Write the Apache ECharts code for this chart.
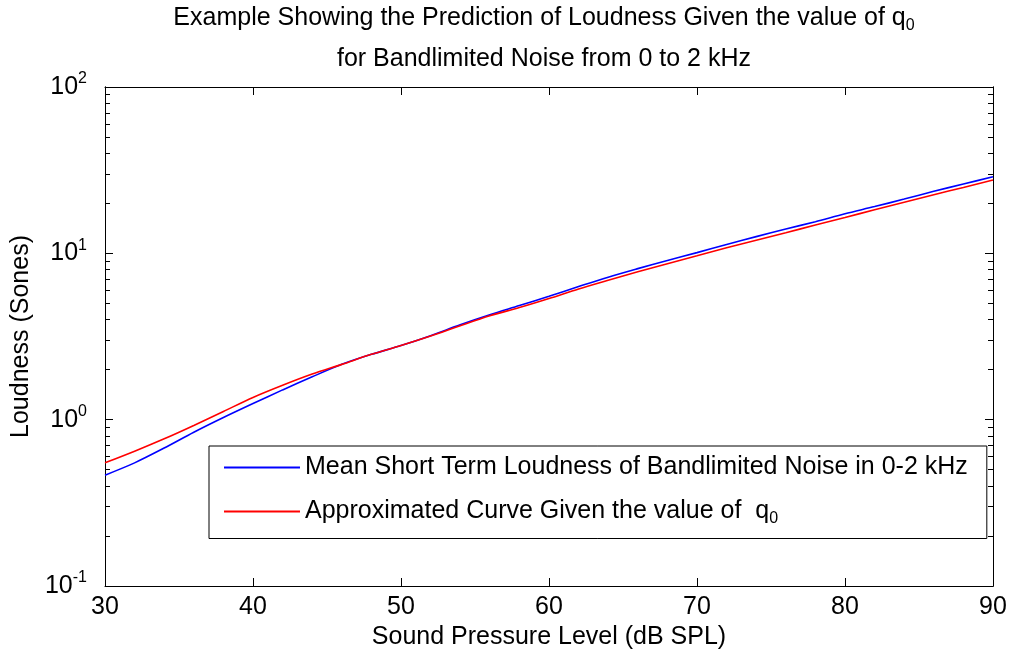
<!DOCTYPE html>
<html>
<head>
<meta charset="utf-8">
<script src="https://cdn.jsdelivr.net/npm/echarts@6/dist/echarts.min.js"></script>
<style>html,body{margin:0;padding:0;background:#fff;}#c{width:1010px;height:659px;}</style>
</head>
<body>
<div id="c"></div>
<script>
// Sound pressure level (dB SPL)
var levels = [30,32,34,36,38,40,42,44,46,48,50,52,54,56,58,60,62,64,66,68,70,72,74,76,78,80,82,84,86,88,90];
// Mean short-term loudness (sones), blue
var measured = [0.464,0.550,0.675,0.840,1.03,1.25,1.51,1.81,2.15,2.47,2.79,3.20,3.72,4.27,4.85,5.52,6.31,7.19,8.09,9.06,10.1,11.3,12.6,14.0,15.5,17.3,19.1,21.2,23.6,26.1,28.9];
// Approximated curve (sones), red
var approx = [0.550,0.646,0.767,0.923,1.12,1.36,1.61,1.88,2.15,2.47,2.79,3.18,3.67,4.21,4.72,5.35,6.11,6.89,7.74,8.65,9.66,10.8,12.0,13.3,14.8,16.4,18.3,20.3,22.5,24.9,27.6];
var majorTicks = [0.1,1,10,100];
var minorTicks = [0.2,0.3,0.4,0.5,0.6,0.7,0.8,0.9,2,3,4,5,6,7,8,9,20,30,40,50,60,70,80,90];
var xTicks = [30,40,50,60,70,80,90];

var FONT = '"Liberation Sans", Arial, sans-serif';
var FS = 25;
function pairs(vals){ return levels.map(function(x,i){ return [x, vals[i]]; }); }

var chart = echarts.init(document.getElementById('c'), null, {renderer:'canvas'});
function yAx(pos, ticks, len, labels){
  return {
    type:'log', logBase:10, min:0.1, max:100, position:pos,
    axisLine:{show:true, lineStyle:{color:'#000', width:1}},
    axisTick:{show:true, inside:true, length:len, customValues:ticks, lineStyle:{color:'#000', width:1}},
    axisLabel: labels ? {
      show:true, customValues:majorTicks, margin:18, color:'#000',
      formatter:function(v){ var e=Math.round(Math.log10(v)); return '{b|10}{s|'+e+'}'; },
      rich:{ b:{fontFamily:FONT,fontSize:FS,color:'#000'}, s:{fontFamily:FONT,fontSize:16,color:'#000',padding:[0,0,16,0]} }
    } : {show:false},
    splitLine:{show:false}, minorTick:{show:false}
  };
}
var option = {
  backgroundColor:'#fff',
  animation:false,
  title:{
    left:539, top:-7, textAlign:'center',
    text:'{t|Example Showing the Prediction of Loudness Given the value of q}{u|0}\n{t|for Bandlimited Noise from 0 to 2 kHz}',
    textStyle:{
      fontWeight:'normal',
      rich:{
        t:{fontFamily:FONT,fontSize:FS,fontWeight:'normal',color:'#000',lineHeight:41},
        u:{fontFamily:FONT,fontSize:16,fontWeight:'normal',color:'#000',padding:[14,0,0,0],lineHeight:41}
      }
    }
  },
  grid:{left:105, right:17, top:87, bottom:73, containLabel:false},
  xAxis:[{
    type:'value', min:30, max:90, interval:10, position:'bottom',
    name:'Sound Pressure Level (dB SPL)', nameLocation:'middle', nameGap:34,
    nameTextStyle:{fontFamily:FONT,fontSize:FS,color:'#000'},
    axisLine:{show:true,lineStyle:{color:'#000',width:1}},
    axisTick:{show:true,inside:true,length:8,lineStyle:{color:'#000'}},
    axisLabel:{show:true,margin:9,color:'#000',fontFamily:FONT,fontSize:FS,customValues:xTicks},
    splitLine:{show:false}
  },{
    type:'value', min:30, max:90, interval:10, position:'top',
    axisLine:{show:true,lineStyle:{color:'#000',width:1}},
    axisTick:{show:true,inside:true,length:8,lineStyle:{color:'#000'}},
    axisLabel:{show:false}, splitLine:{show:false}
  }],
  yAxis:[
    Object.assign(yAx('left', majorTicks, 8, true), {
      name:'Loudness (Sones)', nameLocation:'middle', nameGap:70,
      nameTextStyle:{fontFamily:FONT,fontSize:FS,color:'#000'}
    }),
    yAx('right', majorTicks, 8, false),
    yAx('left', minorTicks, 5, false),
    yAx('right', minorTicks, 5, false)
  ],
  legend:{
    orient:'vertical', left:209, top:446,
    backgroundColor:'#fff', borderColor:'#000', borderWidth:1, borderRadius:0,
    padding:[9,19,12,15], itemGap:19, itemWidth:76, itemHeight:2, icon:'rect',
    textStyle:{
      fontFamily:FONT,fontSize:FS,color:'#000',
      rich:{
        t:{fontFamily:FONT,fontSize:FS,color:'#000'},
        u:{fontFamily:FONT,fontSize:16,color:'#000',padding:[14,0,0,0]}
      }
    },
    formatter:function(n){
      if(n.indexOf('Approx')===0) return '{t|Approximated Curve Given the value of  q}{u|0}';
      return '{t|'+n+'}';
    },
    data:['Mean Short Term Loudness of Bandlimited Noise in 0-2 kHz','Approximated Curve Given the value of q0']
  },
  series:[
    {name:'Mean Short Term Loudness of Bandlimited Noise in 0-2 kHz', type:'line', xAxisIndex:0, yAxisIndex:0,
     data:pairs(measured), showSymbol:false, symbol:'none', smooth:0.3,
     lineStyle:{color:'#0000ff',width:1.6}, itemStyle:{color:'#0000ff'}},
    {name:'Approximated Curve Given the value of q0', type:'line', xAxisIndex:0, yAxisIndex:0,
     data:pairs(approx), showSymbol:false, symbol:'none', smooth:0.3,
     lineStyle:{color:'#ff0000',width:1.6}, itemStyle:{color:'#ff0000'}}
  ]
};
chart.setOption(option);
</script>
</body>
</html>
